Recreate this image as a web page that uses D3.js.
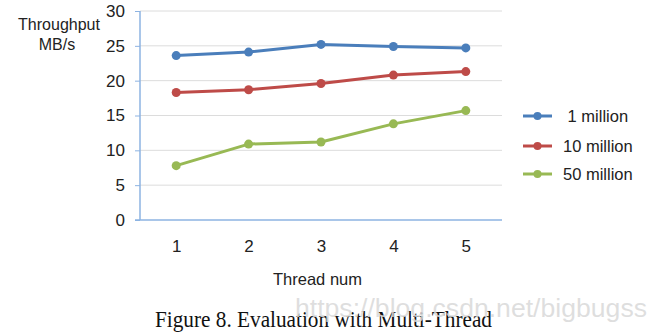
<!DOCTYPE html>
<html>
<head>
<meta charset="utf-8">
<script src="https://cdn.jsdelivr.net/npm/d3@7"></script>
<style>
  html, body { margin: 0; padding: 0; background: #fff; }
  svg { display: block; }
</style>
</head>
<body>
<svg id="chart" width="656" height="334"></svg>
<script>
// Thread counts on the x axis
const threads = [1, 2, 3, 4, 5];
// Throughput (MB/s) per record count
const oneMillion = [23.6, 24.1, 25.2, 24.9, 24.7];
const tenMillion = [18.3, 18.7, 19.6, 20.8, 21.3];
const fiftyMillion = [7.8, 10.9, 11.2, 13.8, 15.7];
const seriesNames = [" 1 million", "10 million", "50 million"];
const yTicks = [0, 5, 10, 15, 20, 25, 30];

const seriesColors = ["#4a7ebb", "#be4b48", "#98b954"];
const series = [oneMillion, tenMillion, fiftyMillion].map((values, i) => ({
  name: seriesNames[i],
  color: seriesColors[i],
  points: values.map((v, j) => ({ x: threads[j], y: v }))
}));

const svg = d3.select("#chart");
const plotLeft = 140, plotRight = 502, plotTop = 11, plotBottom = 220;

const x = d3.scalePoint().domain(threads).range([plotLeft, plotRight]).padding(0.5);
const y = d3.scaleLinear().domain([0, 30]).range([plotBottom, plotTop]);

const sans = "'Liberation Sans', Arial, Helvetica, sans-serif";
const axisBlue = "#8db3e2";

// Horizontal gridlines
svg.append("g")
  .selectAll("line")
  .data(yTicks.filter(t => t > 0))
  .join("line")
  .attr("x1", plotLeft).attr("x2", plotRight)
  .attr("y1", d => y(d)).attr("y2", d => y(d))
  .attr("stroke", "#dcdcdc").attr("stroke-width", 1);

// Y axis
const yAxis = svg.append("g")
  .attr("transform", `translate(${plotLeft},0)`)
  .call(d3.axisLeft(y).tickValues(yTicks).tickSize(5).tickPadding(10));
yAxis.select(".domain").attr("stroke", axisBlue).attr("stroke-width", 1.5)
  .attr("d", `M0,${plotTop}V${plotBottom}`);
yAxis.selectAll(".tick line").attr("stroke", axisBlue);
yAxis.selectAll(".tick text")
  .attr("font-family", sans).attr("font-size", 17).attr("fill", "#222");

// X axis
const xAxis = svg.append("g")
  .attr("transform", `translate(0,${plotBottom})`)
  .call(d3.axisBottom(x).tickSize(0).tickPadding(20));
xAxis.select(".domain").attr("stroke", axisBlue).attr("stroke-width", 1.5)
  .attr("d", `M${plotLeft - 5},0H${plotRight}`);
xAxis.selectAll(".tick text")
  .attr("font-family", sans).attr("font-size", 17).attr("fill", "#222");

// Series lines and markers
const line = d3.line().x(d => x(d.x)).y(d => y(d.y));
const g = svg.append("g");
series.forEach(s => {
  g.append("path")
    .datum(s.points)
    .attr("d", line)
    .attr("fill", "none")
    .attr("stroke", s.color)
    .attr("stroke-width", 3)
    .attr("stroke-linejoin", "round");
  g.selectAll(null)
    .data(s.points)
    .join("circle")
    .attr("cx", d => x(d.x)).attr("cy", d => y(d.y))
    .attr("r", 4.5)
    .attr("fill", s.color);
});

// Axis titles
const yTitle = svg.append("text")
  .attr("font-family", sans).attr("font-size", 16).attr("fill", "#222")
  .attr("text-anchor", "middle");
yTitle.append("tspan").attr("x", 59).attr("y", 30).text("Throughput");
yTitle.append("tspan").attr("x", 57).attr("y", 50).text("MB/s");

svg.append("text")
  .attr("x", 317.5).attr("y", 285)
  .attr("font-family", sans).attr("font-size", 16.5).attr("fill", "#222")
  .attr("text-anchor", "middle")
  .text("Thread num");

// Legend
const legendRows = [116, 146, 174];
const legend = svg.append("g");
series.forEach((s, i) => {
  const row = legend.append("g").attr("transform", `translate(0,${legendRows[i]})`);
  row.append("line")
    .attr("x1", 523).attr("x2", 552).attr("y1", 0).attr("y2", 0)
    .attr("stroke", s.color).attr("stroke-width", 3);
  row.append("circle").attr("cx", 537.5).attr("cy", 0).attr("r", 4).attr("fill", s.color);
  row.append("text")
    .attr("x", 563).attr("y", 6)
    .attr("font-family", sans).attr("font-size", 16.5).attr("fill", "#222")
    .attr("xml:space", "preserve")
    .style("white-space", "pre")
    .text(s.name);
});

// Caption
svg.append("text")
  .attr("x", 155).attr("y", 327)
  .attr("font-family", "'Liberation Serif', 'Times New Roman', serif")
  .attr("font-size", 23).attr("fill", "#111")
  .attr("textLength", 337)
  .attr("lengthAdjust", "spacingAndGlyphs")
  .text("Figure 8. Evaluation with Multi-Thread");

// Watermark
svg.append("text")
  .attr("x", 295).attr("y", 317)
  .attr("font-family", sans).attr("font-size", 26).attr("fill", "#d9d9d9")
  .attr("fill-opacity", 0.85)
  .attr("textLength", 352)
  .attr("lengthAdjust", "spacingAndGlyphs")
  .text("https://blog.csdn.net/bigbugss");
</script>
</body>
</html>
